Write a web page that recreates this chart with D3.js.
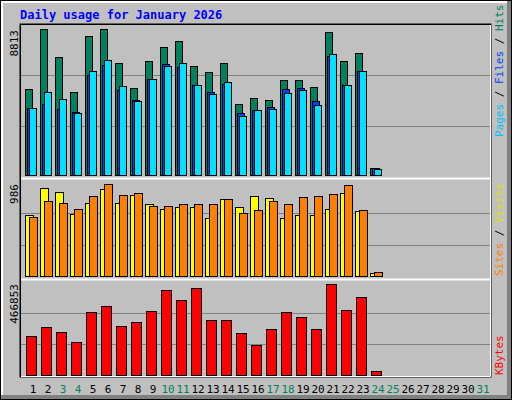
<!DOCTYPE html>
<html><head><meta charset="utf-8">
<script src="https://cdn.jsdelivr.net/npm/d3@7"></script>
<style>body{margin:0;background:#fff}svg{display:block}</style>
</head><body>
<script>
const days = d3.range(1, 32);
const weekendDays = [3,4,10,11,17,18,24,25,31];
const hits   = [5216,8813,7134,5036,8393,8813,6774,5276,6894,7734,8093,6594,6235,6774,4316,4676,4556,5755,5755,5336,8633,6894,7374,480];
const files  = [4077,4316,4017,3837,6055,6654,5156,4556,5815,6714,6535,5455,5036,5515,3777,3957,4137,5216,5276,4496,7194,5455,6295,480];
const pages  = [4077,5036,4616,3777,6295,6954,5396,4496,5815,6594,6774,5455,4916,5635,3597,3957,4017,4976,5156,4256,7314,5455,6295,420];
const visits = [657,943,901,668,784,933,784,869,774,721,742,742,625,827,742,859,837,625,657,657,721,890,700,42];
const sites  = [636,806,784,721,859,986,869,890,753,753,774,774,774,827,678,710,806,774,848,859,880,975,710,53];
const kbytes = [204080,250000,224490,173470,326530,357140,255100,275510,331630,438770,387750,448980,285710,285710,219390,158160,239800,326530,301020,239800,466853,336730,403060,25510];

const W=512,H=400;
const svg=d3.select("body").append("svg").attr("width",W).attr("height",H);
const mono="'DejaVu Sans Mono', monospace";
// frame
svg.append("rect").attr("x",0).attr("y",0).attr("width",W).attr("height",H).attr("fill","#000");
svg.append("rect").attr("x",1).attr("y",1).attr("width",W-2).attr("height",H-2).attr("fill","#808080");
svg.append("rect").attr("x",1).attr("y",1).attr("width",W-6).attr("height",H-6).attr("fill","#fff");
svg.append("rect").attr("x",3).attr("y",3).attr("width",W-8).attr("height",H-8).attr("fill","#c0c0c0");

svg.append("text").attr("x",20).attr("y",19).attr("font-family",mono).attr("font-weight","bold")
  .attr("font-size",12).attr("fill","#0000ff").text("Daily usage for January 2026");

// plot area
const L=20,R=491,T=24,B=377;
svg.append("rect").attr("x",L).attr("y",T).attr("width",R-L).attr("height",B-T).attr("fill","none").attr("stroke","#000");
svg.append("path").attr("d",`M${L+0.5},${B}V${T+0.5}H${R}`).attr("stroke","#000").attr("fill","none");
svg.append("path").attr("d",`M${L+1},${B-0.5}H${R-0.5}V${T+1}`).attr("stroke","#fff").attr("fill","none");

const x=d3.scaleBand().domain(days).range([25,25+31*15]);
const panels=[{top:25,base:176,sep:178},{top:181,base:277,sep:279},{top:281,base:376}];
panels.forEach(p=>{
  [1,2].forEach(k=>{
    const gy=Math.round(p.base-(p.base-p.top)*k/3)+0.5;
    svg.append("line").attr("x1",L+1).attr("x2",R-1).attr("y1",gy).attr("y2",gy).attr("stroke","#808080");
  });
  if(p.sep){svg.append("line").attr("x1",L+1).attr("x2",R-1).attr("y1",p.sep+0.5).attr("y2",p.sep+0.5).attr("stroke","#fff").attr("stroke-width",2);}
});

function bars(data,y,off,w,color){
  svg.append("g").selectAll("rect").data(data).join("rect")
    .attr("x",(d,i)=>x(days[i])+off+0.5).attr("y",d=>Math.round(y(d))+0.5)
    .attr("width",w).attr("height",d=>Math.max(0,y(0)-Math.round(y(d))-1))
    .attr("fill",color).attr("stroke","#000");
}
const y1=d3.scaleLinear().domain([0,8813]).range([176,29]);
bars(hits,y1,0,7,"#00805c");
bars(files,y1,2,7,"#0040ff");
bars(pages,y1,4,7,"#00e0ff");
const y2=d3.scaleLinear().domain([0,986]).range([277,184]);
bars(visits,y2,0,8,"#ffff00");
bars(sites,y2,4,8,"#ff8000");
const y3=d3.scaleLinear().domain([0,466853]).range([376,284]);
bars(kbytes,y3,1,10,"#ff0000");

// y max labels
[["8813",30],["986",184],["466853",284]].forEach(([t,yy])=>{
  svg.append("text").attr("transform",`translate(18,${yy}) rotate(-90)`).attr("text-anchor","end")
   .attr("font-family",mono).attr("font-size",11).attr("fill","#000").text(t);
});
// right legends
function rlabel(parts,ybot){
  const t=svg.append("text").attr("transform",`translate(503,${ybot}) rotate(-90)`)
    .attr("font-family",mono).attr("font-size",11);
  parts.forEach(([s,c])=>t.append("tspan").attr("fill",c).text(s));
}
rlabel([["Pages","#00c0ff"],[" / ","#000"],["Files","#0040ff"],[" / ","#000"],["Hits","#00805c"]],137);
rlabel([["Sites","#ff8000"],[" / ","#000"],["Visits","#e0e000"]],276);
rlabel([["KBytes","#ff0000"]],375);

// x labels
svg.append("g").selectAll("text").data(days).join("text")
  .attr("x",d=>x(d)+8).attr("y",393).attr("text-anchor","middle")
  .attr("font-family",mono).attr("font-size",11)
  .attr("fill",d=>weekendDays.includes(d)?"#00805c":"#000").text(d=>d);
</script>
</body></html>
